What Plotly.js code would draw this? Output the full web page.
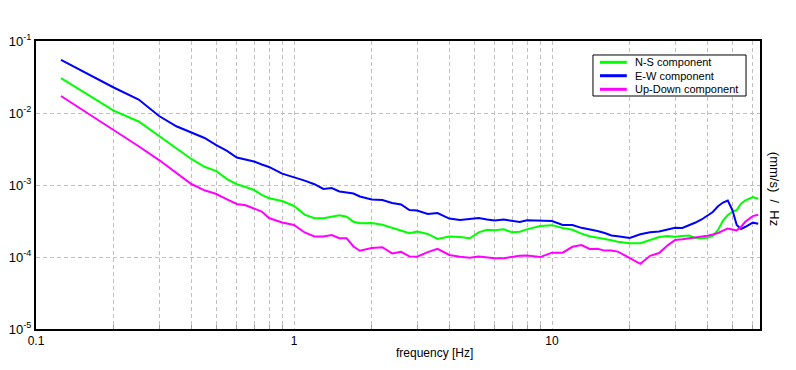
<!DOCTYPE html>
<html>
<head>
<meta charset="utf-8">
<script src="https://cdn.plot.ly/plotly-3.0.1.min.js"></script>
<style>
  html, body { margin: 0; padding: 0; background: #ffffff; }
  #chart { width: 796px; height: 370px; }
</style>
</head>
<body>
<div id="chart"></div>
<script>
// Frequencies [Hz]
var freq = [0.125,0.15,0.175,0.2,0.25,0.3,0.35,0.4,0.45,0.5,0.55,0.6,0.65,0.7,0.75,0.8,0.9,1.0,1.1,1.2,
  1.3,1.4,1.5,1.6,1.7,1.8,2.0,2.2,2.4,2.6,2.8,3.0,3.3,3.6,4.0,4.4,4.8,5.2,5.6,6.0,
  6.5,7.0,7.5,8,9,10,11,12,13,14,15,16,17,18,20,22,24,26,28,30,
  32,34,36,38,40,42,44,46,48,50,52,54,56,60,63];

// N-S component
var nsComp = [0.0306,0.0203,0.0146,0.01076,0.00762,0.00479,0.00322,0.00230,0.00179,0.00156,
  0.00121,0.001026,0.000938,0.000852,0.000731,0.000656,0.000599,0.000511,0.000388,0.000345,
  0.000345,0.000365,0.000379,0.000363,0.000309,0.000294,0.000297,0.000281,0.000253,0.000234,
  0.000214,0.000226,0.000209,0.000178,0.000193,0.000190,0.000182,0.000220,0.000239,0.000236,
  0.000242,0.000220,0.000225,0.000242,0.000270,0.000277,0.000253,0.000239,0.000211,0.000194,
  0.000187,0.000180,0.000171,0.000163,0.000155,0.000155,0.000171,0.000190,0.000195,0.000191,
  0.000196,0.000199,0.000184,0.000182,0.000185,0.000196,0.000237,0.000321,0.000383,0.000424,
  0.000450,0.000550,0.000609,0.000681,0.000643];

// E-W component
var ewComp = [0.0545,0.0387,0.0292,0.0226,0.0154,0.00908,0.00654,0.00533,0.00450,0.00359,
  0.00297,0.00241,0.00225,0.00212,0.00193,0.00178,0.00144,0.00129,0.00115,0.001026,
  0.000880,0.000908,0.000812,0.000787,0.000762,0.000692,0.000629,0.000619,0.000562,0.000536,
  0.000450,0.000442,0.000396,0.000408,0.000342,0.000327,0.000334,0.000348,0.000332,0.000321,
  0.000332,0.000316,0.000306,0.000323,0.000323,0.000316,0.000278,0.000278,0.000254,0.000242,
  0.000230,0.000215,0.000199,0.000194,0.000184,0.000207,0.000220,0.000226,0.000241,0.000254,
  0.000253,0.000274,0.000301,0.000332,0.000371,0.000422,0.000506,0.000571,0.000609,0.000450,
  0.000278,0.000245,0.000261,0.000300,0.000289];

// Up-Down component
var udComp = [0.01722,0.01133,0.00799,0.00588,0.00345,0.00222,0.001477,0.001032,0.000844,0.000750,
  0.000633,0.000545,0.000524,0.000476,0.000427,0.000348,0.000302,0.000278,0.000219,0.000193,
  0.000193,0.000202,0.000182,0.000182,0.000140,0.000122,0.000133,0.000137,0.000112,0.000118,
  0.000102,0.000101,0.000117,0.000130,0.0001066,0.000101,0.0000978,0.0001016,0.0000990,0.0000959,
  0.0000961,0.0001013,0.0001039,0.0001052,0.0000997,0.0001148,0.0001148,0.0001387,0.0001468,0.0001291,
  0.0001297,0.0001227,0.0001227,0.0001189,0.0000978,0.0000804,0.0001039,0.0001136,0.0001440,0.0001722,
  0.0001767,0.0001813,0.0001866,0.0001909,0.0001970,0.0002054,0.0002154,0.0002318,0.0002488,0.0002410,
  0.0002341,0.0002610,0.0003062,0.0003699,0.0003855];

var seriesNames = ['N-S component', 'E-W component', 'Up-Down component'];
var seriesColors = ['#00ff00', '#0000ff', '#ff00ff'];

var xTickVals = [0.1, 1, 10];
var xTickText = ['0.1', '1', '10'];
var xMinorVals = [0.2,0.3,0.4,0.5,0.6,0.7,0.8,0.9,2,3,4,5,6,7,8,9,20,30,40,50,60];
var yTickVals = [1e-5, 1e-4, 1e-3, 1e-2, 1e-1];
var yTickText = ['10<sup>-5</sup>','10<sup>-4</sup>','10<sup>-3</sup>','10<sup>-2</sup>','10<sup>-1</sup>'];

var FONT = 'Liberation Sans, Arial, sans-serif';

var seriesData = [nsComp, ewComp, udComp];
var traces = seriesData.map(function (vals, i) {
  return {x: freq, y: vals, name: seriesNames[i], type: 'scatter', mode: 'lines',
          line: {color: seriesColors[i], width: 2}, showlegend: false};
});

// Custom legend (box, line samples, labels) in paper coordinates
var legBox = {x0: 0.7693, x1: 0.9807, y0: 0.809, y1: 0.9514};
var legRowY = [0.9260, 0.8795, 0.8323];
var shapes = [{type: 'rect', xref: 'paper', yref: 'paper',
  x0: legBox.x0, x1: legBox.x1, y0: legBox.y0, y1: legBox.y1,
  line: {color: '#000000', width: 1}, fillcolor: '#ffffff', layer: 'above'}];
var annotations = [];
seriesNames.forEach(function (nm, i) {
  shapes.push({type: 'line', xref: 'paper', yref: 'paper',
    x0: 0.779, x1: 0.816, y0: legRowY[i], y1: legRowY[i],
    line: {color: seriesColors[i], width: 3}, layer: 'above'});
  annotations.push({text: nm, xref: 'paper', yref: 'paper', x: 0.825, y: legRowY[i],
    xanchor: 'left', yanchor: 'middle', showarrow: false,
    font: {family: FONT, size: 11, color: '#000000'}});
});
annotations.push({text: 'frequency [Hz]', xref: 'paper', yref: 'paper', x: 0.55, y: -0.085,
  xanchor: 'center', yanchor: 'middle', showarrow: false,
  font: {family: FONT, size: 12, color: '#000000'}});
annotations.push({text: '(mm/s)  /  Hz', xref: 'paper', yref: 'paper', x: 1.021, y: 0.486,
  xanchor: 'center', yanchor: 'middle', showarrow: false, textangle: 90,
  font: {family: FONT, size: 13, color: '#000000'}});

var layout = {
  width: 796, height: 370,
  margin: {l: 36, r: 36, t: 41, b: 41, pad: 0},
  paper_bgcolor: '#ffffff', plot_bgcolor: '#ffffff',
  font: {family: FONT, size: 12, color: '#000000'},
  showlegend: false,
  xaxis: {
    type: 'log', range: [-1, Math.log10(64)],
    tickmode: 'array', tickvals: xTickVals, ticktext: xTickText,
    ticks: '', showline: true, linecolor: '#000000', linewidth: 2, mirror: true,
    showgrid: true, gridcolor: '#c0c0c0', griddash: '4px,3px', gridwidth: 1, zeroline: false,
    tickfont: {family: FONT, size: 12},
    minor: {tickmode: 'array', tickvals: xMinorVals, ticks: 'inside', ticklen: 4,
            tickcolor: '#a0a0a0', showgrid: true, gridcolor: '#c0c0c0', griddash: '4px,3px', gridwidth: 1}
  },
  yaxis: {
    type: 'log', range: [-5, -1],
    tickmode: 'array', tickvals: yTickVals, ticktext: yTickText,
    ticks: '', showline: true, linecolor: '#000000', linewidth: 2, mirror: true,
    showgrid: true, gridcolor: '#c0c0c0', griddash: '4px,3px', gridwidth: 1, zeroline: false,
    tickfont: {family: FONT, size: 13}
  },
  shapes: shapes,
  annotations: annotations
};

Plotly.newPlot('chart', traces, layout, {staticPlot: true, displayModeBar: false});
</script>
</body>
</html>
